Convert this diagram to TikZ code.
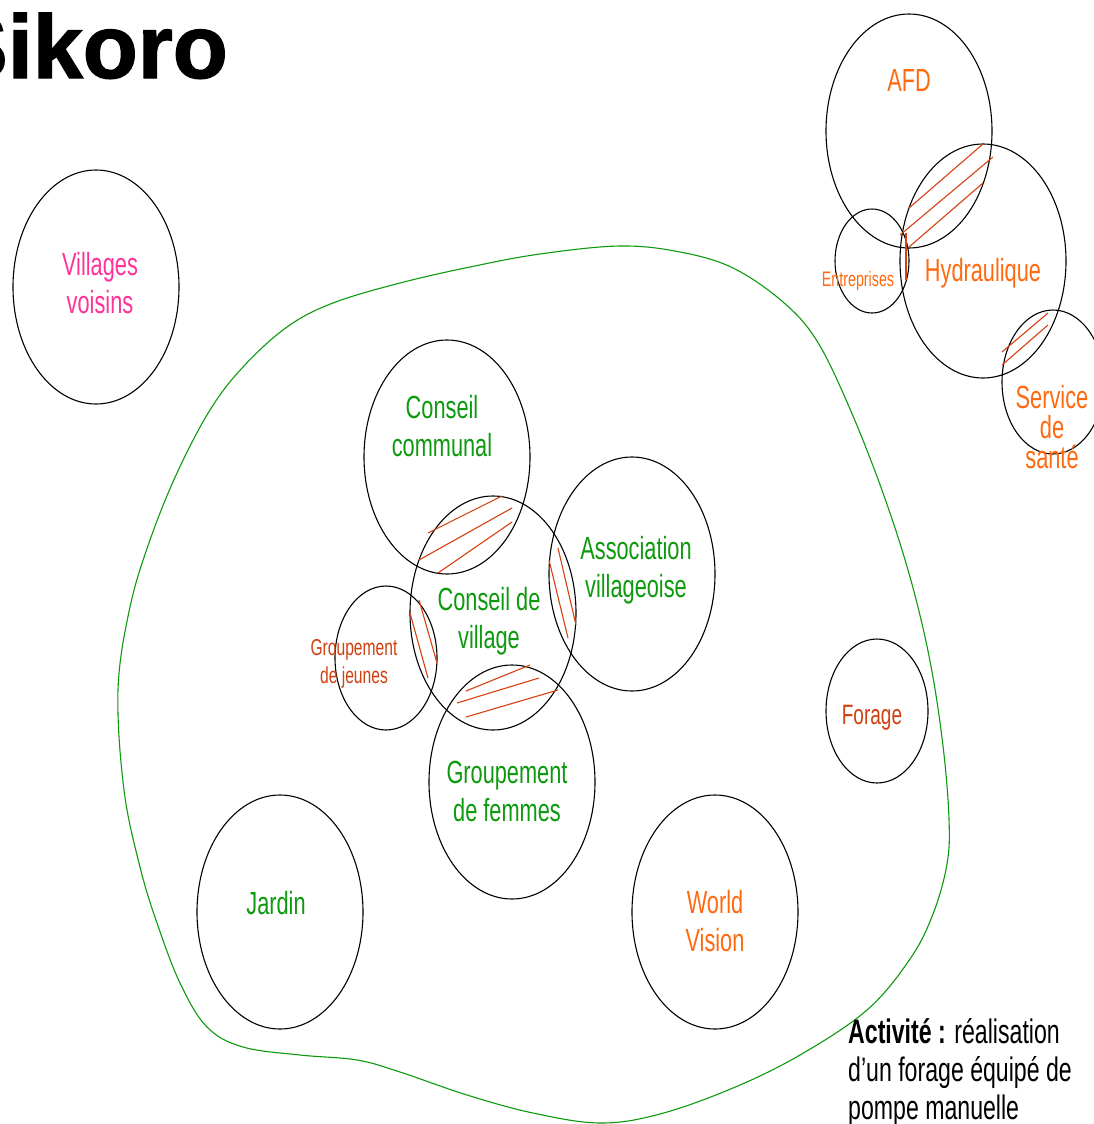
\documentclass[tikz,border=0pt]{standalone}
\usepackage{fontspec}
\setmainfont{Liberation Sans}
\newfontfamily\narrowfont[FakeStretch=0.68]{Liberation Sans}
\newfontfamily\narrowbold[FakeStretch=0.68]{Liberation Sans Bold}
\newfontfamily\titlefont[FakeBold=1.5]{Liberation Sans Bold}
\usetikzlibrary{shapes.geometric}
\definecolor{cgreen}{HTML}{0E9A0E}
\definecolor{cpink}{HTML}{FF3399}
\definecolor{corange}{HTML}{FF6A10}
\definecolor{cred}{HTML}{D04010}
\definecolor{chatch}{HTML}{D84010}
\tikzset{
  bubble/.style={draw=black, line width=1.1pt, ellipse, inner sep=0pt, minimum width=166pt, minimum height=234pt},
  smallbubble/.style={draw=black, line width=1.1pt, ellipse, inner sep=0pt, minimum width=102pt, minimum height=144pt},
  big/.style={font=\narrowfont\fontsize{32}{38}\selectfont, align=center, inner sep=0pt},
  small/.style={font=\narrowfont\fontsize{23}{28}\selectfont, align=center, inner sep=0pt},
  hatch/.style={draw=chatch, line width=1.1pt},
  act/.style={font=\narrowfont\fontsize{34}{38}\selectfont, anchor=base west, inner sep=0pt, text=black}
}
\begin{document}
\begin{tikzpicture}[x=1pt,y=-1pt]
\useasboundingbox[fill=white] (0,0) rectangle (1093,1124);

% green boundary
\draw[cgreen, line width=1.1pt] plot[smooth cycle, tension=0.6] coordinates {
 (620,246) (540,254) (470,267) (400,283) (333,303) (287,327) (243,367) (210,410) (177,473)
 (150,540) (130,607) (118,690) (124,790) (140,867) (157,923) (180,983) (207,1027)
 (243,1047) (300,1055) (357,1060) (400,1072) (467,1095) (533,1113) (600,1123)
 (660,1114) (733,1088) (800,1055) (867,1010) (910,959) (933,914) (947,864) (949,819)
 (943,746) (930,661) (910,577) (883,493) (850,409) (817,341) (783,302) (733,268) (680,252)};

% title
\node[font=\titlefont\fontsize{90}{90}\selectfont, anchor=base east, inner sep=0pt] (title) at (228,78) {Sikoro};

% ellipses
\node[bubble] (vv) at (96,287) {};
\node[bubble] (cc) at (447,457) {};
\node[bubble] (cv) at (493,613) {};
\node[bubble] (av) at (632,574) {};
\node[smallbubble] (gj) at (386,658) {};
\node[bubble] (gf) at (512,782) {};
\node[bubble] (jd) at (280,912) {};
\node[bubble] (wv) at (715,912) {};
\node[smallbubble] (fo) at (877,711) {};
\node[bubble] (afd) at (909,131) {};
\node[bubble] (hy) at (983,261) {};
\node[draw=black, line width=1.1pt, ellipse, inner sep=0pt, minimum width=74pt, minimum height=104pt] (en) at (872,261) {};
\node[smallbubble] (ss) at (1053,382) {};

% hatching
\draw[hatch] (428,533) -- (502,496);
\draw[hatch] (419,560) -- (512,508);
\draw[hatch] (438,573) -- (512,522);
\draw[hatch] (419,600) -- (437,663);
\draw[hatch] (410,613) -- (428,678);
\draw[hatch] (466,691) -- (530,665);
\draw[hatch] (457,703) -- (539,678);
\draw[hatch] (466,717) -- (558,690);
\draw[hatch] (558,548) -- (576,625);
\draw[hatch] (549,560) -- (568,638);
\draw[hatch] (909,208) -- (983,144);
\draw[hatch] (900,235) -- (993,157);
\draw[hatch] (909,247) -- (983,183);
\draw[hatch] (906,233) -- (906,280);
\draw[hatch] (1002,352) -- (1048,313);
\draw[hatch] (1002,365) -- (1048,325);

% labels
\node[big, text=cpink] (tvv) at (100,283) {Villages\\voisins};
\node[big, text=cgreen] (tcc) at (442,426) {Conseil\\communal};
\node[big, text=cgreen] (tcv) at (489,621) {Conseil de\\village};
\node[big, text=cgreen] (tav) at (636,570) {Association\\villageoise};
\node[small, text=cred] (tgj) at (354,664) {Groupement\\de jeunes};
\node[big, text=cgreen] (tgf) at (507,791) {Groupement\\de femmes};
\node[big, text=cgreen] (tjd) at (276,903) {Jardin};
\node[big, text=corange] (twv) at (715,921) {World\\Vision};
\node[font=\narrowfont\fontsize{28}{32}\selectfont, inner sep=0pt, text=cred] (tfo) at (872,718) {Forage};
\node[big, text=corange] (tafd) at (909,80) {AFD};
\node[big, text=corange] (thy) at (983,273) {Hydraulique};
\node[font=\narrowfont\fontsize{21}{25}\selectfont, inner sep=0pt, text=corange] (ten) at (858,281) {Entreprises};
\node[font=\narrowfont\fontsize{32}{30}\selectfont, align=center, inner sep=0pt, text=corange] (tss) at (1052,427) {Service\\de\\santé};

% activity
\node[act] (a1) at (848,1043) {{\narrowbold Activité :} réalisation};
\node[act] (a2) at (848,1081) {d’un forage équipé de};
\node[act] (a3) at (848,1119) {pompe manuelle};
\end{tikzpicture}
\end{document}
